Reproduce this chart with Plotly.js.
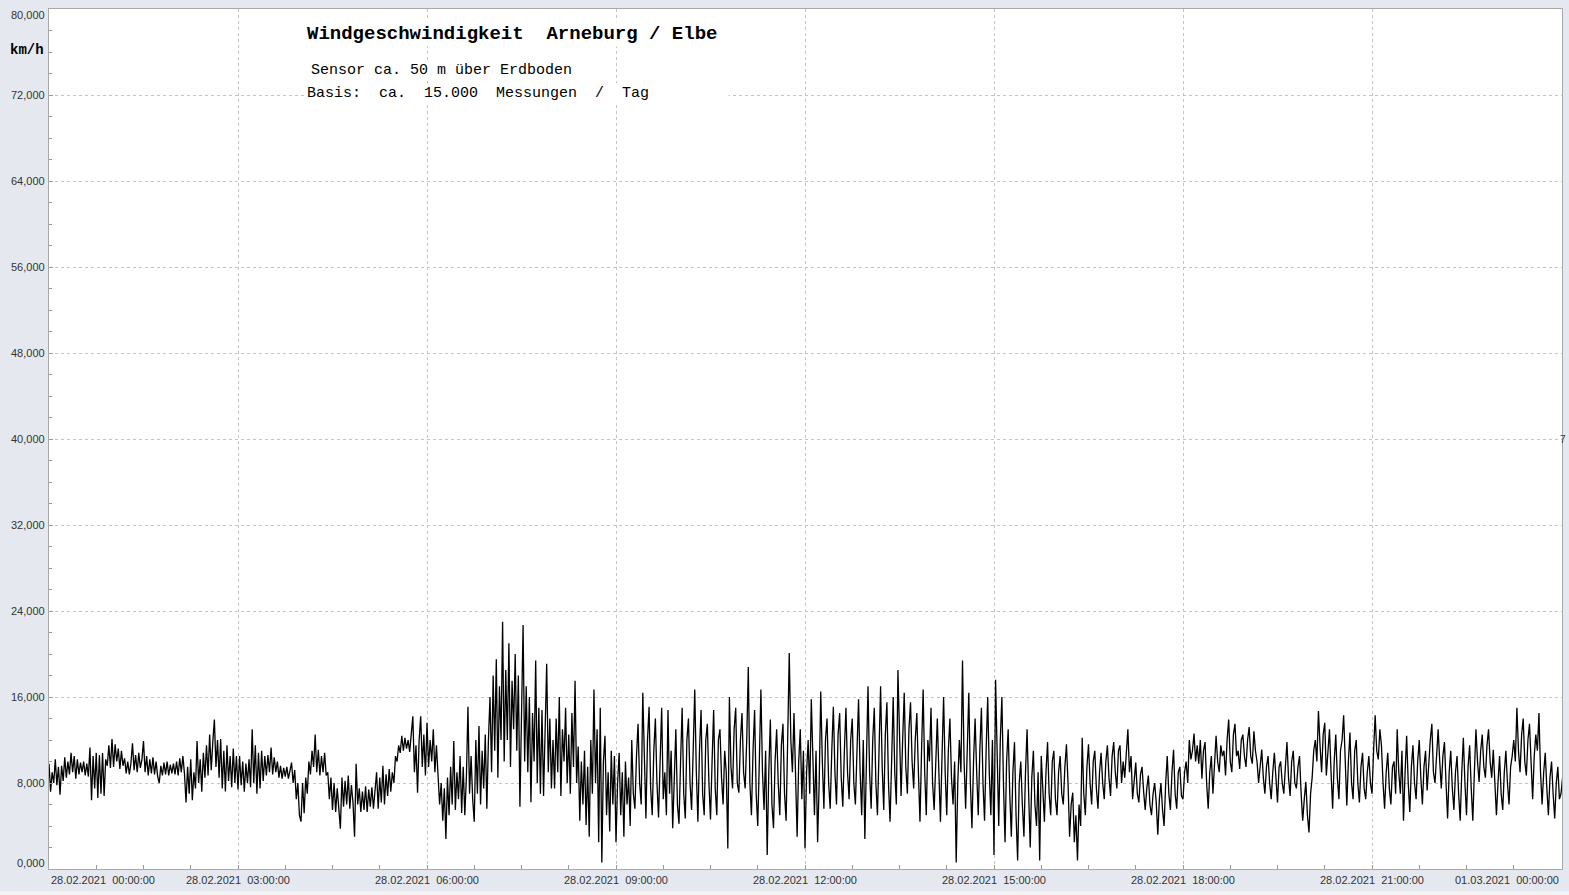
<!DOCTYPE html>
<html>
<head>
<meta charset="utf-8">
<script src="https://cdn.plot.ly/plotly-3.0.1.min.js"></script>
<style>html,body{margin:0;padding:0;background:#e6eaf0;}#chart{width:1569px;height:895px;}</style>
</head>
<body>
<div id="chart"></div>
<script>
// Wind speed (km/h), one reading every 1.5 minutes, 28.02.2021 00:00 .. 01.03.2021 00:01
const startTime = '2021-02-28T00:00:00Z';
const stepSeconds = 90;
const kmh = [
  // 00h
  9.8,7.2,9.0,8.0,10.2,7.8,9.5,6.9,9.6,8.2, 10.4,8.5,10.0,8.8,10.8,9.0,10.5,8.4,10.2,
  8.8,9.9,9.0,10.0,8.7,9.8, 8.6,11.3,6.4,10.5,7.5,10.8,6.6, 10.6,7.0,10.8,6.8,10.2, 9.6,11.5,9.4,
  // 01h
  12.1,9.5,11.6,10.0,11.2,9.3,11.0,9.6, 10.3,8.9,10.0,8.8,9.8, 11.7,9.2,10.6,9.0,10.8,9.4,10.2,11.9,
  9.0,10.5,8.7,10.2,8.9,10.4,8.8,10.0,8.6, 8.0,9.6, 8.7,9.9,8.8,10.0,8.7,9.7,8.9,9.8,
  // 02h
  8.8,10.0,8.7,10.3,9.0,10.5,8.9, 6.2,9.5,7.0,10.2, 6.4,9.0,7.5,11.9,8.0,10.2,7.2,10.8,8.5,
  11.5,8.7,12.5,9.2,11.8,13.9,9.5,12.0, 8.5,12.1,7.5,11.0,7.2,11.5,8.2,10.5,7.6,11.2,8.0,10.5,
  // 03h
  7.4,10.5,7.8,10.0,7.2,9.8,8.0,10.2,7.6, 13.0,8.0,11.5,7.0,10.8,7.5,11.0,8.2,10.5,
  8.7,10.6,9.0,11.3,8.8,10.4,9.0,10.0, 8.5,9.6,8.4,9.4,8.6,9.5,8.4,9.3, 9.9,8.0,9.2,6.5,8.0,5.0,
  // 04h
  4.4,8.0,5.2,8.5, 7.0,10.0,8.8,11.0,9.5,12.5, 9.0,11.1,8.7,10.5,9.0,10.8,8.7,
  9.0,6.5,8.5,5.5,8.0,5.3,7.5,5.6, 3.75,8.5,5.8,8.2,6.0,8.7,5.6,7.8,6.2,3.0,9.8, 6.0,7.5,5.3,7.2,
  // 05h
  5.5,7.7,5.3,7.4,5.8,7.6,5.6,7.0, 9.0,5.6,8.5,6.2,9.6,6.0,8.8, 6.8,9.3,7.2,9.0,8.0,10.5,10.0,
  11.5,10.8,12.4,11.0,12.2,11.2,12.0,10.9, 12.5,14.2,9.0,11.5,7.1,12.0,14.2,9.5,12.5,8.7,
  // 06h
  13.6,9.5,12.0,10.0,13.0,9.0,11.5, 8.7,6.0,8.0,4.5,7.5,2.8,
  8.5,5.0,9.5,6.0,11.9,5.5,9.0,6.5,10.5,5.2,9.5,5.0,8.5, 15.1,7.0,
  10.5,6.5,4.4,12.0,7.0,13.3,6.0,11.0,7.5,12.5,5.6,12.0,
  // 07h
  16.0,9.0,18.0,11.0,19.5,8.5,17.0,12.0,23.0,10.0,18.5,
  12.0,21.0,9.5,17.5,13.0,20.0,11.0,18.0,5.8,14.0,22.7,10.0,17.0,
  9.0,16.0,6.2,14.5,10.0,19.4,8.0,15.0,7.0, 14.8,6.8,13.0,19.1,9.0,14.0,7.5,
  // 08h
  12.0,7.5,14.0,9.0,16.0,6.8,13.0,10.0,15.0,8.0,12.5,7.0,14.5,9.5,
  17.5,8.0,11.4,4.5,10.0,6.0,11.0,4.1,9.5, 3.0,12.0,7.0,16.7,8.0,13.0,2.5,15.0,
  0.6,10.0,12.4,5.0,9.0,3.5,11.0,6.0,10.5,
  // 09h
  2.5,8.0,10.8,5.0,9.0,3.0,10.0,6.0,8.5,4.0, 12.0,7.0,5.6,10.5,13.5,8.0,6.0,16.4,
  9.0,4.7,12.0,15.1,7.5,5.0,11.0,14.0,8.0,4.8,10.0,15.0,6.5, 9.0,5.0,14.8,7.0,11.0,3.8,9.5,13.0,6.0,
  // 10h
  4.2,10.0,15.0,7.0,4.7,12.0,14.0,8.0,5.5,11.0, 16.7,9.0,4.4,11.0,14.8,7.0,5.0,12.0,13.5,8.0,4.6,
  10.0,14.8,7.5,5.0,12.0,13.0,8.5,6.0,11.0,9.0,1.9, 16.0,9.5,7.5,13.0,15.0,8.0,7.1,12.0,
  // 11h
  14.5,9.0,7.5,12.0,18.8, 8.0,5.0,11.0,14.8,7.0,4.0,10.0,16.7,9.0,5.5,11.0,1.3,
  9.0,13.9,6.0,3.8,10.0,13.0,8.0,5.0,11.5,13.5,7.0,4.5,12.0, 20.1,12.0,9.0, 14.5,8.0,3.0,10.0,13.0,6.5,11.0,
  // 12h
  1.9,9.0,12.0,7.0, 15.8,9.0,5.0,11.0,2.5,8.0, 16.5,10.0,5.6,12.0,14.0,8.0,
  5.6,11.0,15.1,9.0,6.0,12.5,14.5,8.5,5.8,11.0,15.0,9.0,6.5,12.0,14.0,
  8.0,6.0,11.0,15.8,9.0,5.0,12.0,2.8,10.0,
  // 13h
  17.0,9.0,5.6,12.0,15.0,8.0, 5.0,11.0,17.0,9.5,5.5,12.5,15.5,8.0, 4.4,10.0,16.0,9.0,6.0,18.5,
  11.0,6.8,12.0,16.4,9.5,7.0,13.0,15.5,10.0,7.5,12.0,14.5,9.0, 4.4,11.0,16.7,9.0,5.0,12.0,10.0,
  // 14h
  15.0,8.0,5.5,11.0,14.0,9.0,4.4,10.5, 16.0,9.0,5.0,11.0,14.0,8.5,6.0,10.0, 0.6,8.0,12.0,9.0,19.4,10.0,5.6,
  11.0,16.4,8.0,3.8,10.0,14.0,9.0,5.0,11.0,15.0,8.0, 4.5,11.0,16.0,9.0,5.0,12.0,
  // 15h
  1.3,17.6, 9.0,4.0,12.0,16.0,8.0,2.5,10.0,13.0, 7.0,3.0,9.0,11.8,5.0,0.8,8.0,10.0,6.0,
  3.0,9.0,13.0,7.0,2.0,8.5,11.0,6.0,4.0,9.0,0.8,10.5,7.0, 4.4,9.0,11.8,7.0,5.0,10.0,11.0,6.5,
  // 16h
  5.0,9.0,10.5,7.0,6.0,9.5,11.6,8.0, 3.0,6.0,7.1,2.5,5.0,0.8,6.0,4.0, 12.2,7.0,
  5.0,9.5,11.6,8.0,6.0,10.0,11.0,7.5,5.6,9.0,10.8,8.0,6.5, 10.0,11.5,8.5,6.8,10.5,11.8,9.0,7.5,11.0,
  // 17h
  11.5,8.0,10.0,8.5,11.0,13.0,9.0,10.5, 6.5,8.5,9.9,7.0,6.2,8.8,9.5,7.2,
  5.5,7.5,8.7,6.0,5.0,7.0,8.0,6.2,3.2,6.5,8.0,5.5,4.0, 8.0,10.5,7.0,5.5,9.0,11.1, 7.0,5.6,9.0,9.5,6.8,
  // 18h
  6.5,9.0,10.0,8.0, 12.0,10.2,11.0,12.6,10.0,11.5,9.8,12.0,8.4,11.0, 11.8,8.0,5.6,9.0,10.5,7.0,9.5,
  12.4,10.0,9.0,11.5,10.5,11.0, 8.7,12.0,13.9,10.0,9.0,12.5,13.5,10.5,11.0, 9.3,12.0,12.5,10.5,
  // 19h
  9.5,12.0,13.2,10.5,9.8,12.8,11.0,10.0, 8.0,10.0,11.1,8.5,7.0,9.5,10.5,8.0,6.5,9.0,10.8,8.5,6.2,9.5,10.0,8.0,7.0,
  9.5,11.8,8.5,6.8,10.0,11.0,8.0,7.5,9.5,10.5, 7.0,4.5,6.5,8.1,5.0,
  // 20h
  3.4,7.0, 8.5,11.0,12.0,10.0,14.7,11.5,9.0,12.5,13.6, 8.7,11.0,13.0,9.0,5.6,10.0,12.5,8.5,6.5,11.0,12.0,
  14.3,9.0,5.9,10.0,12.7,8.0,6.5,11.0,12.0, 8.0,6.2,9.5,10.8,7.5,6.5,9.0,10.5,8.0,
  // 21h
  7.0,11.0, 14.3,11.0,10.2,13.0,11.5, 8.0,5.6,9.0,10.8,7.5,6.0,9.5,10.0,7.0, 13.0,9.0,7.0,11.0,4.5,9.0,
  12.4,8.0,5.3,9.5,11.5,8.0,6.5,10.0,12.0,8.5,6.0,9.5,11.0, 7.3,10.0,12.0,13.5,9.0,
  // 22h
  8.0,11.0,13.0,10.0,7.5,10.5, 11.8,8.0,4.7,9.0,11.0,7.5,5.5,9.0,10.5,7.0, 4.5,9.0,12.2,8.0,5.0,9.5,11.5,7.5,4.5,9.0,
  13.0,10.0,8.1,11.0,12.5,9.5,8.5,11.5,13.0,10.0,8.5, 11.1,8.0,5.0,
  // 23h
  8.0,10.5,7.0,5.5,9.0,11.0,8.0,6.0,9.5,10.5, 12.0,10.0,15.0,11.0,9.0,12.5,14.0,10.0,8.7,
  12.0,13.5,9.5,6.5,10.5,12.5,11.0,14.5,9.0, 6.0,9.0,10.8,7.5,5.0,8.5,10.0,7.0,4.7,8.0,9.5,6.5,
  // 24h
  7.0,8.5
];

const xTickTimes = ['2021-02-28 00:00:00','2021-02-28 03:00:00','2021-02-28 06:00:00','2021-02-28 09:00:00',
  '2021-02-28 12:00:00','2021-02-28 15:00:00','2021-02-28 18:00:00','2021-02-28 21:00:00','2021-03-01 00:00:00'];
const xTickLabels = ['28.02.2021  00:00:00','28.02.2021  03:00:00','28.02.2021  06:00:00','28.02.2021  09:00:00',
  '28.02.2021  12:00:00','28.02.2021  15:00:00','28.02.2021  18:00:00','28.02.2021  21:00:00','01.03.2021  00:00:00'];
const yTickVals = [0, 8, 16, 24, 32, 40, 48, 56, 64, 72, 80];
const yTickLabels = ['0,000','8,000','16,000','24,000','32,000','40,000','48,000','56,000','64,000','72,000','80,000'];

const titleText = 'Windgeschwindigkeit  Arneburg / Elbe';
const subText1 = 'Sensor ca. 50 m über Erdboden';
const subText2 = 'Basis:  ca.  15.000  Messungen  /  Tag';
const unitText = 'km/h';

const nb = s => s.replace(/ /g, '\u00a0');
const t0 = new Date(startTime).getTime();
const times = kmh.map((_, i) => new Date(t0 + i * stepSeconds * 1000).toISOString().replace('T', ' ').slice(0, 19));

const tickFont = {family: 'Liberation Sans, Arial, sans-serif', size: 11, color: '#333'};
const mono = 'Liberation Mono, Courier New, monospace';

const W = 1569, H = 895, ML = 49, MR = 7, MT = 9, MB = 26;
const PW = W - ML - MR, PH = H - MT - MB;
function paperX(px) { return (px - ML) / PW; }
function paperY(py) { return (H - MB - py) / PH; }

const annotations = xTickTimes.map((t, i) => ({
  x: t, xref: 'x', y: 0, yref: 'paper', yshift: -11, yanchor: 'middle',
  xanchor: i === 0 ? 'left' : (i === xTickTimes.length - 1 ? 'right' : 'center'),
  text: nb(xTickLabels[i]), showarrow: false, font: tickFont
}));
yTickVals.forEach((v, i) => annotations.push({
  x: 0, xref: 'paper', xshift: -2, xanchor: 'right', y: v, yref: 'y',
  yanchor: i === 0 ? 'bottom' : (i === yTickVals.length - 1 ? 'top' : 'middle'),
  yshift: i === 0 ? -2 : (i === yTickVals.length - 1 ? 2 : 0),
  text: yTickLabels[i], showarrow: false, font: tickFont
}));

annotations.push(
  {xref: 'paper', yref: 'paper', x: paperX(305), y: paperY(34), xanchor: 'left', yanchor: 'middle',
   text: '<b>' + nb(titleText) + '</b>', showarrow: false, bgcolor: '#ffffff',
   font: {family: mono, size: 19, color: '#000'}},
  {xref: 'paper', yref: 'paper', x: paperX(309), y: paperY(71), xanchor: 'left', yanchor: 'middle',
   text: nb(subText1), showarrow: false, bgcolor: '#ffffff',
   font: {family: mono, size: 15, color: '#000'}},
  {xref: 'paper', yref: 'paper', x: paperX(305), y: paperY(94), xanchor: 'left', yanchor: 'middle',
   width: 420, align: 'left',
   text: nb(subText2), showarrow: false, bgcolor: '#ffffff',
   font: {family: mono, size: 15, color: '#000'}},
  {xref: 'paper', yref: 'paper', x: paperX(46), y: paperY(50), xanchor: 'right', yanchor: 'middle',
   text: '<b>' + unitText + '</b>', showarrow: false,
   font: {family: mono, size: 14, color: '#000'}},
  {xref: 'paper', yref: 'y', x: paperX(1568), y: 40, xanchor: 'right', yanchor: 'middle',
   text: '7', showarrow: false, font: {family: tickFont.family, size: 10, color: '#333'}}
);

const trace = {
  x: times, y: kmh, type: 'scatter', mode: 'lines',
  line: {color: '#000000', width: 1.3}, hoverinfo: 'skip'
};

const layout = {
  width: W, height: H,
  margin: {l: ML, r: MR, t: MT, b: MB, pad: 0},
  paper_bgcolor: '#e5e9ef', plot_bgcolor: '#ffffff',
  separators: ',.',
  showlegend: false,
  xaxis: {
    type: 'date', range: ['2021-02-28 00:00:00', '2021-03-01 00:00:57'],
    tick0: '2021-02-28 00:00:00', dtick: 3 * 3600000,
    showticklabels: false, ticks: 'inside', ticklen: 4, tickcolor: '#999',
    showgrid: true, gridcolor: '#c4c4c4', griddash: '3px,3px', gridwidth: 1,
    showline: true, linecolor: '#a8a8a8', linewidth: 1, mirror: true, zeroline: false,
    minor: {dtick: 45 * 60000, ticks: 'inside', ticklen: 4, tickcolor: '#999', showgrid: false}
  },
  yaxis: {
    range: [0, 80], dtick: 8, tick0: 0, showticklabels: false,
    ticks: 'inside', ticklen: 4, tickcolor: '#999',
    showgrid: true, gridcolor: '#c4c4c4', griddash: '3px,3px', gridwidth: 1,
    showline: true, linecolor: '#a8a8a8', linewidth: 1, mirror: true, zeroline: false,
    minor: {dtick: 2, ticks: 'inside', ticklen: 3, tickcolor: '#999', showgrid: false}
  },
  shapes: [
    {type: 'rect', xref: 'paper', yref: 'paper', x0: paperX(0), x1: paperX(W), y0: paperY(H), y1: paperY(891),
     fillcolor: '#f3f3f3', line: {width: 0}, layer: 'below'}
  ],
  annotations: annotations
};

Plotly.newPlot('chart', [trace], layout, {displayModeBar: false, staticPlot: true});
</script>
</body>
</html>
